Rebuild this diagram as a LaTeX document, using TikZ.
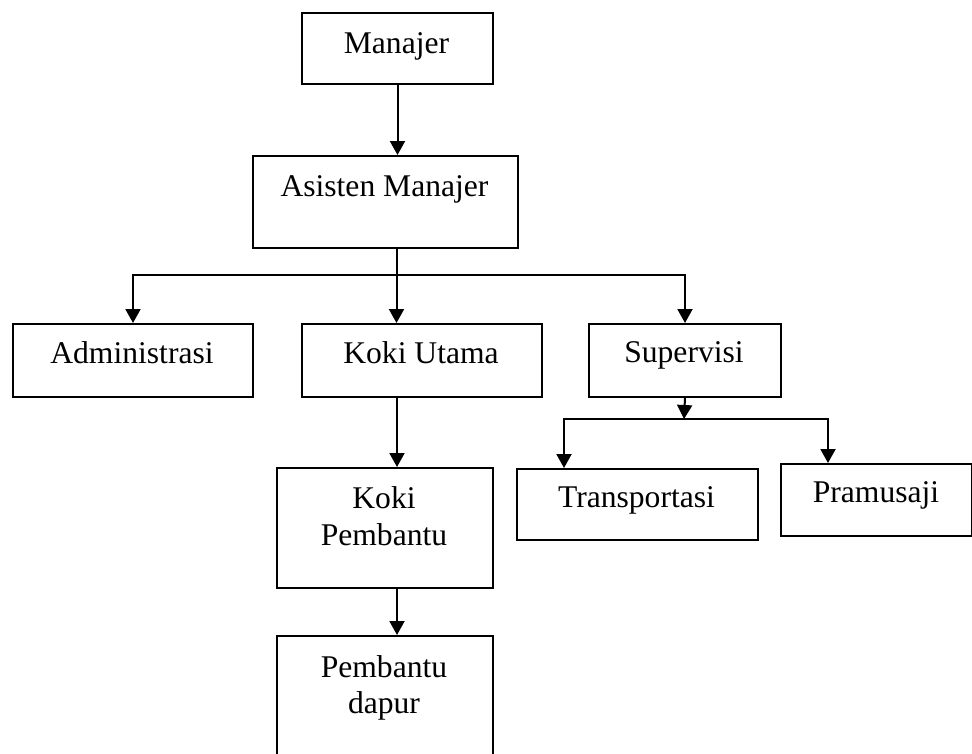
\documentclass[tikz,border=0pt]{standalone}
\usepackage{fontspec}
\setmainfont{Liberation Serif}
\usetikzlibrary{arrows.meta}
\begin{document}
\begin{tikzpicture}[x=1pt,y=-1pt,
  box/.style={draw=black,line width=2pt,rectangle,inner sep=0pt},
  txt/.style={inner sep=0pt,anchor=base,align=center,font=\fontsize{31.6}{37}\selectfont},
  conn/.style={line width=2pt},
  arr/.style={line width=2pt,-{Triangle[width=15pt,length=14pt]}}]
\useasboundingbox (0,0) rectangle (972,753);
% boxes
\node[box,minimum width=191pt,minimum height=71pt,anchor=north west] (man) at (301,12) {};
\node[box,minimum width=265pt,minimum height=92pt,anchor=north west] (asi) at (252,155) {};
\node[box,minimum width=240pt,minimum height=73pt,anchor=north west] (adm) at (12,323) {};
\node[box,minimum width=240pt,minimum height=73pt,anchor=north west] (kok) at (301,323) {};
\node[box,minimum width=192pt,minimum height=73pt,anchor=north west] (sup) at (588,323) {};
\node[box,minimum width=216pt,minimum height=120pt,anchor=north west] (kp) at (276,467) {};
\node[box,minimum width=241pt,minimum height=71pt,anchor=north west] (trn) at (516,468) {};
\node[box,minimum width=191pt,minimum height=72pt,anchor=north west] (prm) at (780,463) {};
\node[box,minimum width=216pt,minimum height=122pt,anchor=north west] (pd) at (276,635) {};
% texts
\node[txt] (mant) at (396.5,53) {Manajer};
\node[txt] (asit) at (384.5,196) {Asisten Manajer};
\node[txt] (admt) at (132,363) {Administrasi};
\node[txt] (kokt) at (421,363) {Koki Utama};
\node[txt] (supt) at (684,362) {Supervisi};
\node[txt] (kpt1) at (384,508) {Koki};
\node[txt] (kpt2) at (384,545) {Pembantu};
\node[txt] (trnt) at (636.5,507) {Transportasi};
\node[txt] (prmt) at (876,502) {Pramusaji};
\node[txt] (pdt1) at (384,677) {Pembantu};
\node[txt] (pdt2) at (384,713) {dapur};
% junction coordinates
\coordinate (j1) at (396.5,275);
\coordinate (j2) at (684,419);
% connectors
\draw[arr] (man.south) -- (man.south |- asi.north);
\draw[conn] (asi.south -| j1) -- (j1);
\draw[arr] (j1) -| (adm.north -| 133,0);
\draw[arr] (j1) -- (j1 |- kok.north);
\draw[arr] (j1) -| (sup.north);
\draw[arr] (kok.south -| 397,0) -- (kp.north -| 397,0);
\draw[arr] (kp.south -| 397,0) -- (pd.north -| 397,0);
\draw[arr] (sup.south) -- (j2);
\draw[arr] (j2) -| (trn.north -| 564,0);
\draw[arr] (j2) -| (prm.north -| 828,0);
\end{tikzpicture}
\end{document}
